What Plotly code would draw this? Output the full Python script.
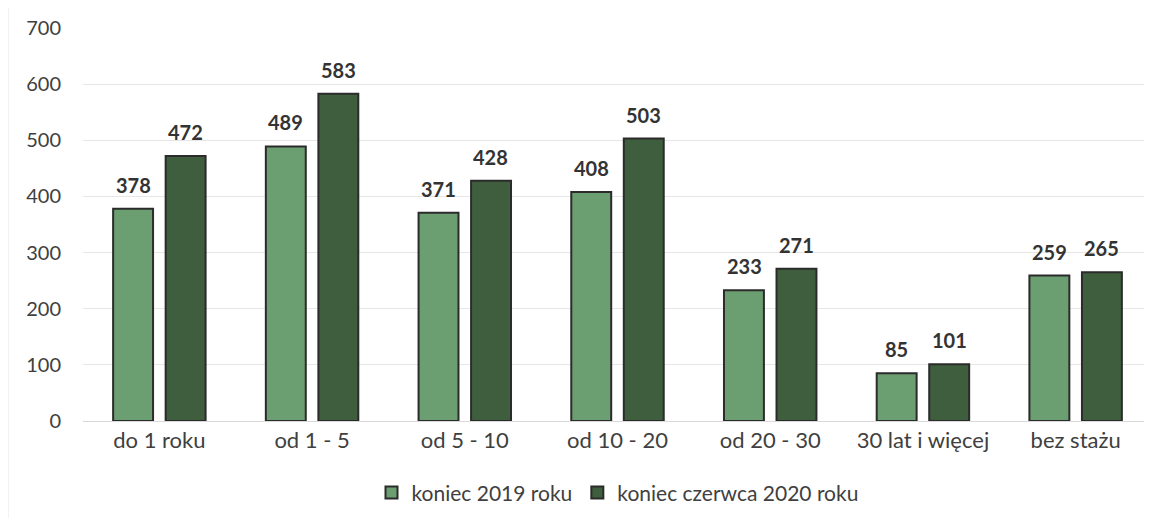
import plotly.graph_objects as go

kategorie = ["do 1 roku", "od 1 - 5", "od 5 - 10", "od 10 - 20",
             "od 20 - 30", "30 lat i więcej", "bez stażu"]
koniec_2019 = [378, 489, 371, 408, 233, 85, 259]
czerwiec_2020 = [472, 583, 428, 503, 271, 101, 265]
y_ticks = [0, 100, 200, 300, 400, 500, 600, 700]

FONT = "Lato, 'Open Sans', sans-serif"
OUTLINE = dict(color="#2b2b2b", width=2)
SHIFT = 26.2   # polowa odstepu miedzy srodkami slupkow w grupie [px]


def seria(nazwa, wartosci, kolor):
    return go.Bar(x=kategorie, y=wartosci, name=nazwa,
                  marker=dict(color=kolor, line=OUTLINE), cliponaxis=False)


fig = go.Figure([
    seria("koniec 2019 roku", koniec_2019, "#6b9e70"),
    seria("koniec czerwca 2020 roku", czerwiec_2020, "#3f5e3d"),
])

# etykiety wartosci nad slupkami (z wiekszym odstepem niz textposition="outside")
for wartosci, dx in ((koniec_2019, -SHIFT), (czerwiec_2020, SHIFT)):
    for kat, v in zip(kategorie, wartosci):
        fig.add_annotation(
            x=kat, y=v, text=f"<b>{v}</b>", showarrow=False,
            xshift=dx, yshift=10, yanchor="bottom",
            font=dict(family=FONT, size=20, color="#333333"))

# delikatna ramka wykresu (lewa i gorna krawedz)
fig.add_shape(type="line", xref="paper", yref="paper",
              x0=-0.070, x1=-0.070, y0=-0.25, y1=1.075,
              line=dict(color="#ececec", width=1))
fig.add_shape(type="line", xref="paper", yref="paper",
              x0=-0.070, x1=1.0, y0=1.072, y1=1.072,
              line=dict(color="#ececec", width=1))

# strona HTML ma 8 px marginesu body, stad mniejsze wymiary i marginesy
fig.update_layout(
    width=1144, height=510,
    margin=dict(l=75, r=0, t=20, b=97),
    paper_bgcolor="white", plot_bgcolor="white",
    barmode="group", bargap=0.312, bargroupgap=0.24,
    font=dict(family=FONT, size=20, color="#404040"),
    showlegend=True,
    legend=dict(orientation="h", x=0.5, xanchor="center", y=-0.183,
                yanchor="middle", font=dict(size=21, color="#404040"),
                traceorder="normal"),
    xaxis=dict(showgrid=False, showline=True, linecolor="#d9d9d9", linewidth=1,
               ticks="", tickfont=dict(size=22), automargin=False),
    yaxis=dict(range=[0, 700], tickvals=y_ticks, showgrid=True,
               gridcolor="#e6e6e6", gridwidth=1, zeroline=False,
               ticks="", ticklabelstandoff=21, tickfont=dict(size=20),
               automargin=False),
)

fig.write_html("out.html")
